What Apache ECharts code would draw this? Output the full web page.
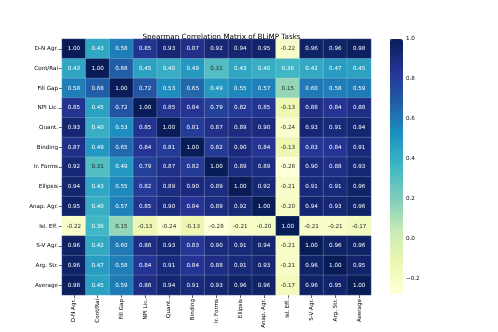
<!DOCTYPE html>
<html lang="en">
<head>
    <meta charset="UTF-8">
    <title></title>
    <script src="https://cdn.jsdelivr.net/npm/echarts@6/dist/echarts.min.js"></script>
    <style>
        html, body { margin: 0; padding: 0; background: #fff; }
    </style>
</head>
<body>
    <div id="charts" style="width: 498px;height:332px;"></div>
    <script type="text/javascript">
        var tasks = ['D-N Agr.', 'Cont/Rai', 'Fill Gap', 'NPI Lic.', 'Quant.', 'Binding', 'Ir. Forms',
            'Ellipsis', 'Anap. Agr.', 'Isl. Eff.', 'S-V Agr.', 'Arg. Str.', 'Average'];
        var rowDNAgr   = [1.00, 0.43, 0.58, 0.85, 0.93, 0.87, 0.92, 0.94, 0.95, -0.22, 0.96, 0.96, 0.98];
        var rowContRai = [0.43, 1.00, 0.68, 0.45, 0.40, 0.49, 0.31, 0.43, 0.40, 0.36, 0.42, 0.47, 0.45];
        var rowFillGap = [0.58, 0.68, 1.00, 0.72, 0.53, 0.65, 0.49, 0.55, 0.57, 0.15, 0.60, 0.58, 0.59];
        var rowNpiLic  = [0.85, 0.45, 0.72, 1.00, 0.85, 0.84, 0.79, 0.82, 0.85, -0.13, 0.88, 0.84, 0.88];
        var rowQuant   = [0.93, 0.40, 0.53, 0.85, 1.00, 0.81, 0.87, 0.89, 0.90, -0.24, 0.93, 0.91, 0.94];
        var rowBinding = [0.87, 0.49, 0.65, 0.84, 0.81, 1.00, 0.82, 0.90, 0.84, -0.13, 0.83, 0.84, 0.91];
        var rowIrForms = [0.92, 0.31, 0.49, 0.79, 0.87, 0.82, 1.00, 0.89, 0.89, -0.28, 0.90, 0.88, 0.93];
        var rowEllipsis= [0.94, 0.43, 0.55, 0.82, 0.89, 0.90, 0.89, 1.00, 0.92, -0.21, 0.91, 0.91, 0.96];
        var rowAnapAgr = [0.95, 0.40, 0.57, 0.85, 0.90, 0.84, 0.89, 0.92, 1.00, -0.20, 0.94, 0.93, 0.96];
        var rowIslEff  = [-0.22, 0.36, 0.15, -0.13, -0.24, -0.13, -0.28, -0.21, -0.20, 1.00, -0.21, -0.21, -0.17];
        var rowSvAgr   = [0.96, 0.42, 0.60, 0.88, 0.93, 0.83, 0.90, 0.91, 0.94, -0.21, 1.00, 0.96, 0.96];
        var rowArgStr  = [0.96, 0.47, 0.58, 0.84, 0.91, 0.84, 0.88, 0.91, 0.93, -0.21, 0.96, 1.00, 0.95];
        var rowAverage = [0.98, 0.45, 0.59, 0.88, 0.94, 0.91, 0.93, 0.96, 0.96, -0.17, 0.96, 0.95, 1.00];
        var rows = [rowDNAgr, rowContRai, rowFillGap, rowNpiLic, rowQuant, rowBinding, rowIrForms,
            rowEllipsis, rowAnapAgr, rowIslEff, rowSvAgr, rowArgStr, rowAverage];
        var cbTicks = [-0.2, 0.0, 0.2, 0.4, 0.6, 0.8, 1.0];

        // YlGnBu
        var cmap = ['#ffffd9', '#edf8b1', '#c7e9b4', '#7fcdbb', '#41b6c4', '#1d91c0', '#225ea8', '#253494', '#081d58'];
        var vmin = -0.28, vmax = 1.0;

        function hex(c) {
            return [parseInt(c.substr(1, 2), 16), parseInt(c.substr(3, 2), 16), parseInt(c.substr(5, 2), 16)];
        }
        // pick text colour like seaborn does (relative luminance)
        function textColor(v) {
            var t = (v - vmin) / (vmax - vmin) * (cmap.length - 1);
            var i = Math.min(Math.floor(t), cmap.length - 2);
            var f = t - i;
            var a = hex(cmap[i]), b = hex(cmap[i + 1]);
            var rgb = [0, 1, 2].map(function (k) { return (a[k] + (b[k] - a[k]) * f) / 255; });
            var lin = rgb.map(function (c) { return c <= 0.03928 ? c / 12.92 : Math.pow((c + 0.055) / 1.055, 2.4); });
            var lum = 0.2126 * lin[0] + 0.7152 * lin[1] + 0.0722 * lin[2];
            return lum > 0.408 ? '#262626' : '#ffffff';
        }

        var data = [];
        for (var r = 0; r < rows.length; r++) {
            for (var c = 0; c < rows[r].length; c++) {
                var v = rows[r][c];
                data.push({ value: [c, r, v], label: { color: textColor(v) } });
            }
        }

        var myChart = echarts.init(document.getElementById('charts'));
        var font = 'DejaVu Sans';
        var option = {
            animation: false,
            title: {
                text: 'Spearman Correlation Matrix of BLiMP Tasks',
                left: 216.5,
                textAlign: 'center',
                top: 29,
                textStyle: { fontFamily: font, fontSize: 7.2, fontWeight: 'normal', color: '#000' }
            },
            grid: [
                { left: 62, top: 39, width: 309, height: 256, outerBoundsMode: 'none' },
                { left: 390, top: 39, width: 13, height: 255, outerBoundsMode: 'none' }
            ],
            xAxis: [
                {
                    type: 'category', data: tasks, gridIndex: 0, position: 'bottom',
                    axisLine: { show: false },
                    axisTick: { show: true, alignWithLabel: true, length: 3, lineStyle: { color: '#000', width: 0.6 } },
                    axisLabel: {
                        rotate: 90, fontFamily: font, fontSize: 5.6, color: '#000', margin: 4, interval: 0,
                        overflow: 'none', width: 80, hideOverlap: false
                    },
                    splitLine: { show: false }
                },
                {
                    type: 'value', gridIndex: 1, show: false, min: 0, max: 1
                }
            ],
            yAxis: [
                {
                    type: 'category', data: tasks, gridIndex: 0, inverse: true,
                    axisLine: { show: false },
                    axisTick: { show: true, alignWithLabel: true, length: 3, lineStyle: { color: '#000', width: 0.6 } },
                    axisLabel: { fontFamily: font, fontSize: 5.6, color: '#000', margin: 4, interval: 0, overflow: 'none' },
                    splitLine: { show: false }
                },
                {
                    type: 'value', gridIndex: 1, position: 'right', min: vmin, max: vmax,
                    axisLine: { show: false },
                    splitLine: { show: false },
                    axisTick: { show: true, length: 3, customValues: cbTicks, lineStyle: { color: '#000', width: 0.6 } },
                    axisLabel: {
                        fontFamily: font, fontSize: 5.6, color: '#000', margin: 3, customValues: cbTicks,
                        formatter: function (v) { return v < 0 ? '\u22120.2' : v.toFixed(1); }
                    }
                }
            ],
            visualMap: {
                type: 'continuous',
                min: vmin, max: vmax,
                seriesIndex: 0,
                calculable: false,
                hoverLink: false,
                orient: 'vertical',
                left: 390, top: 39,
                padding: 0,
                itemWidth: 13, itemHeight: 255,
                text: null,
                showLabel: false,
                inRange: { color: cmap }
            },
            series: [
                {
                    type: 'heatmap',
                    xAxisIndex: 0, yAxisIndex: 0,
                    data: data,
                    itemStyle: { borderColor: 'rgba(255,255,255,0.35)', borderWidth: 0.5 },
                    label: {
                        show: true, fontFamily: font, fontSize: 5.6,
                        formatter: function (p) {
                            var s = Math.abs(p.value[2]).toFixed(2);
                            return p.value[2] < 0 ? '-' + s : s;
                        }
                    },
                    emphasis: { disabled: true }
                }
            ]
        };
        myChart.setOption(option);
    </script>
</body>
</html>
